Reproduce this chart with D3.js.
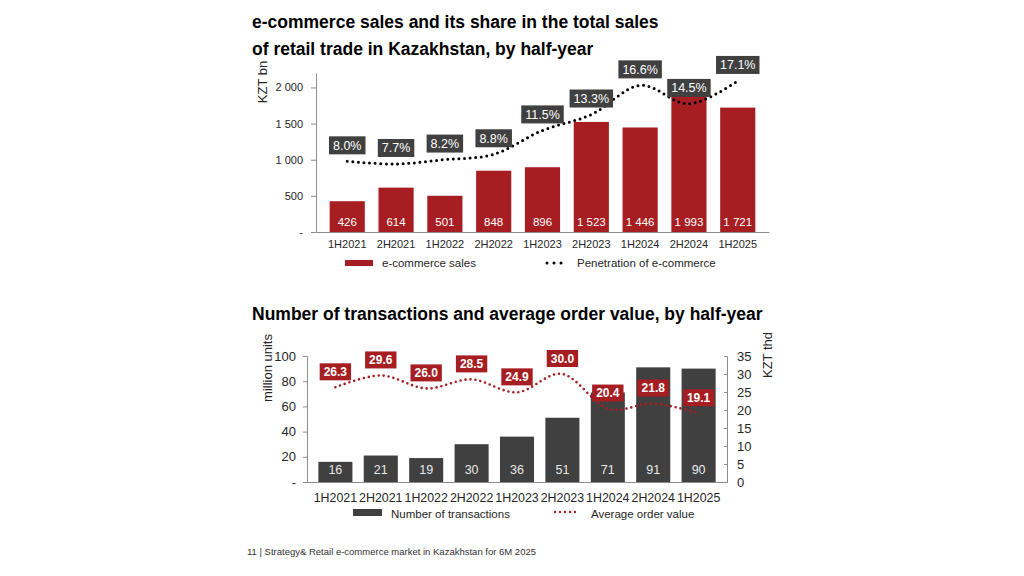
<!DOCTYPE html>
<html>
<head>
<meta charset="utf-8">
<script src="https://cdn.jsdelivr.net/npm/d3@7"></script>
<style>
  body { margin: 0; background: #fff; }
  svg text { font-family: "Liberation Sans", Arial, sans-serif; }
</style>
</head>
<body>
<svg width="1024" height="576"></svg>
<script>
// data
let periods = ['1H2021', '2H2021', '1H2022', '2H2022', '1H2023', '2H2023', '1H2024', '2H2024', '1H2025'];
let salesBn = [426, 614, 501, 848, 896, 1523, 1446, 1993, 1721];
let penetrationPct = [8.0, 7.7, 8.2, 8.8, 11.5, 13.3, 16.6, 14.5, 17.1];
let transactionsMln = [16, 21, 19, 30, 36, 51, 71, 91, 90];
let avgOrderThd = [26.3, 29.6, 26.0, 28.5, 24.9, 30.0, 20.4, 21.8, 19.1];
let salesTicks = [0, 500, 1000, 1500, 2000];
let txTicks = [0, 20, 40, 60, 80, 100];
let aovTicks = [0, 5, 10, 15, 20, 25, 30, 35];

let red = '#a61e22', dark = '#404040', axisCol = '#8c8c8c', textCol = '#262626';

let loc = d3.formatLocale({ decimal: '.', thousands: ' ', grouping: [3], currency: ['', ''] });
let fmtInt = loc.format(',d');
let fmtTick = function(d) { return d === 0 ? '-' : fmtInt(d); };

let svg = d3.select('svg');

function title(lines, y0) {
  lines.forEach(function(t, i) {
    svg.append('text')
      .attr('x', 252).attr('y', y0 + i * 27)
      .style('font-size', '17.5px').style('font-weight', 'bold').style('fill', '#000')
      .text(t);
  });
}

function styleAxis(g, size) {
  g.select('.domain').attr('stroke', axisCol);
  g.selectAll('.tick line').attr('stroke', axisCol);
  g.selectAll('.tick text').style('font-size', size).style('fill', textCol)
    .style('font-family', '"Liberation Sans", Arial, sans-serif');
}

function labelBox(g, x, y, txt, fill, fontSize, bold, padX, h) {
  let lg = g.append('g');
  let rect = lg.append('rect').attr('fill', fill);
  let t = lg.append('text')
    .attr('x', x).attr('y', y - h / 2)
    .attr('dy', '0.35em')
    .attr('text-anchor', 'middle')
    .style('font-size', fontSize).style('fill', '#fff')
    .style('font-weight', bold ? 'bold' : 'normal')
    .text(txt);
  let w = t.node().getComputedTextLength() + padX * 2;
  rect.attr('x', x - w / 2).attr('y', y - h).attr('width', w).attr('height', h);
}

// ---------- top chart ----------
title(['e-commerce sales and its share in the total sales', 'of retail trade in Kazakhstan, by half-year'], 28);

let box1 = { left: 316, right: 769, top: 73, bottom: 232 };
let x1 = d3.scaleBand().domain(periods).range([box1.left, box1.right]).padding(0.28);
let y1 = d3.scaleLinear().domain([0, 2200]).range([box1.bottom, box1.top]);
let p1 = d3.scaleLinear().domain([0, 18]).range([box1.bottom, box1.top]);

let gTop = svg.append('g');

gTop.append('g').attr('class', 'y axis')
  .attr('transform', 'translate(' + box1.left + ',0)')
  .call(d3.axisLeft(y1).tickValues(salesTicks).tickFormat(fmtTick).tickSize(5).tickPadding(8).tickSizeOuter(0))
  .call(styleAxis, '11px');

gTop.append('g').attr('class', 'x axis')
  .attr('transform', 'translate(0,' + box1.bottom + ')')
  .call(d3.axisBottom(x1).tickSize(0).tickPadding(8))
  .call(styleAxis, '11px');

gTop.selectAll('rect.bar')
  .data(salesBn)
  .join('rect')
  .attr('class', 'bar')
  .attr('x', function(d, i) { return x1(periods[i]); })
  .attr('y', function(d) { return y1(d); })
  .attr('width', x1.bandwidth())
  .attr('height', function(d) { return y1(0) - y1(d); })
  .attr('fill', red);

gTop.selectAll('text.val')
  .data(salesBn)
  .join('text')
  .attr('class', 'val')
  .attr('x', function(d, i) { return x1(periods[i]) + x1.bandwidth() / 2; })
  .attr('y', 226)
  .attr('text-anchor', 'middle')
  .style('font-size', '11.5px').style('fill', '#fff')
  .text(function(d) { return fmtInt(d); });

let line1 = d3.line()
  .x(function(d, i) { return x1(periods[i]) + x1.bandwidth() / 2; })
  .y(function(d) { return p1(d); })
  .curve(d3.curveCardinal.tension(0));

gTop.append('path')
  .datum(penetrationPct)
  .attr('d', line1)
  .attr('fill', 'none')
  .attr('stroke', '#000')
  .attr('stroke-width', 3)
  .attr('stroke-linecap', 'round')
  .attr('stroke-dasharray', '0 5.6');

penetrationPct.forEach(function(d, i) {
  labelBox(gTop, x1(periods[i]) + x1.bandwidth() / 2, p1(d) - 7, d.toFixed(1) + '%', dark, '12.5px', false, 4, 18);
});

// y label
svg.append('text')
  .attr('transform', 'translate(267,82) rotate(-90)')
  .attr('text-anchor', 'middle')
  .style('font-size', '13px').style('fill', textCol)
  .text('KZT bn');

// legend
svg.append('rect').attr('x', 345).attr('y', 260).attr('width', 28).attr('height', 6).attr('fill', red);
svg.append('text').attr('x', 382).attr('y', 267).style('font-size', '11.5px').style('fill', textCol).text('e-commerce sales');
svg.append('line').attr('x1', 547).attr('x2', 568).attr('y1', 263).attr('y2', 263)
  .attr('stroke', '#000').attr('stroke-width', 3).attr('stroke-linecap', 'round').attr('stroke-dasharray', '0 7');
svg.append('text').attr('x', 577).attr('y', 267).style('font-size', '11.5px').style('fill', textCol).text('Penetration of e-commerce');

// ---------- bottom chart ----------
title(['Number of transactions and average order value, by half-year'], 320);

let box2 = { left: 307, right: 727, top: 356, bottom: 482 };
let x2 = d3.scaleBand().domain(periods).range([box2.left, box2.right]).padding(0.25);
let y2 = d3.scaleLinear().domain([0, 100]).range([box2.bottom, box2.top]);
let r2 = d3.scaleLinear().domain([0, 35]).range([box2.bottom, box2.top]);

let gBot = svg.append('g');

gBot.append('g')
  .attr('transform', 'translate(' + box2.left + ',0)')
  .call(d3.axisLeft(y2).tickValues(txTicks).tickFormat(fmtTick).tickSize(4).tickPadding(7).tickSizeOuter(4))
  .call(styleAxis, '13px');

gBot.append('g')
  .attr('transform', 'translate(' + box2.right + ',0)')
  .call(d3.axisRight(r2).tickValues(aovTicks).tickSize(-3).tickPadding(10).tickSizeOuter(-3))
  .call(styleAxis, '13px');

gBot.append('g')
  .attr('transform', 'translate(0,' + box2.bottom + ')')
  .call(d3.axisBottom(x2).tickSize(0).tickPadding(11))
  .call(styleAxis, '12.4px');

gBot.selectAll('rect.bar')
  .data(transactionsMln)
  .join('rect')
  .attr('class', 'bar')
  .attr('x', function(d, i) { return x2(periods[i]); })
  .attr('y', function(d) { return y2(d); })
  .attr('width', x2.bandwidth())
  .attr('height', function(d) { return y2(0) - y2(d); })
  .attr('fill', dark);

gBot.selectAll('text.val')
  .data(transactionsMln)
  .join('text')
  .attr('class', 'val')
  .attr('x', function(d, i) { return x2(periods[i]) + x2.bandwidth() / 2; })
  .attr('y', 474)
  .attr('text-anchor', 'middle')
  .style('font-size', '12.5px').style('fill', '#e8e8e8')
  .text(function(d) { return d; });

let line2 = d3.line()
  .x(function(d, i) { return x2(periods[i]) + x2.bandwidth() / 2; })
  .y(function(d) { return r2(d); })
  .curve(d3.curveCardinal.tension(0));

gBot.append('path')
  .datum(avgOrderThd)
  .attr('d', line2)
  .attr('fill', 'none')
  .attr('stroke', red)
  .attr('stroke-width', 2.6)
  .attr('stroke-linecap', 'round')
  .attr('stroke-dasharray', '0 5');

avgOrderThd.forEach(function(d, i) {
  labelBox(gBot, x2(periods[i]) + x2.bandwidth() / 2, r2(d) - 7, d.toFixed(1), red, '12px', true, 4, 17);
});

svg.append('text')
  .attr('transform', 'translate(272,368) rotate(-90)')
  .attr('text-anchor', 'middle')
  .style('font-size', '13px').style('fill', textCol)
  .text('million units');

svg.append('text')
  .attr('transform', 'translate(772,355) rotate(-90)')
  .attr('text-anchor', 'middle')
  .style('font-size', '13px').style('fill', textCol)
  .text('KZT thd');

// legend
svg.append('rect').attr('x', 353).attr('y', 509).attr('width', 29).attr('height', 7).attr('fill', dark);
svg.append('text').attr('x', 391).attr('y', 518).style('font-size', '11.5px').style('fill', textCol).text('Number of transactions');
svg.append('line').attr('x1', 555).attr('x2', 580).attr('y1', 512).attr('y2', 512)
  .attr('stroke', red).attr('stroke-width', 2.4).attr('stroke-linecap', 'round').attr('stroke-dasharray', '0 5');
svg.append('text').attr('x', 591).attr('y', 518).style('font-size', '11.5px').style('fill', textCol).text('Average order value');

// footer
svg.append('text').attr('x', 247).attr('y', 555)
  .style('font-size', '9.5px').style('fill', '#333')
  .text('11 | Strategy& Retail e-commerce market in Kazakhstan for 6M 2025');
</script>
</body>
</html>
